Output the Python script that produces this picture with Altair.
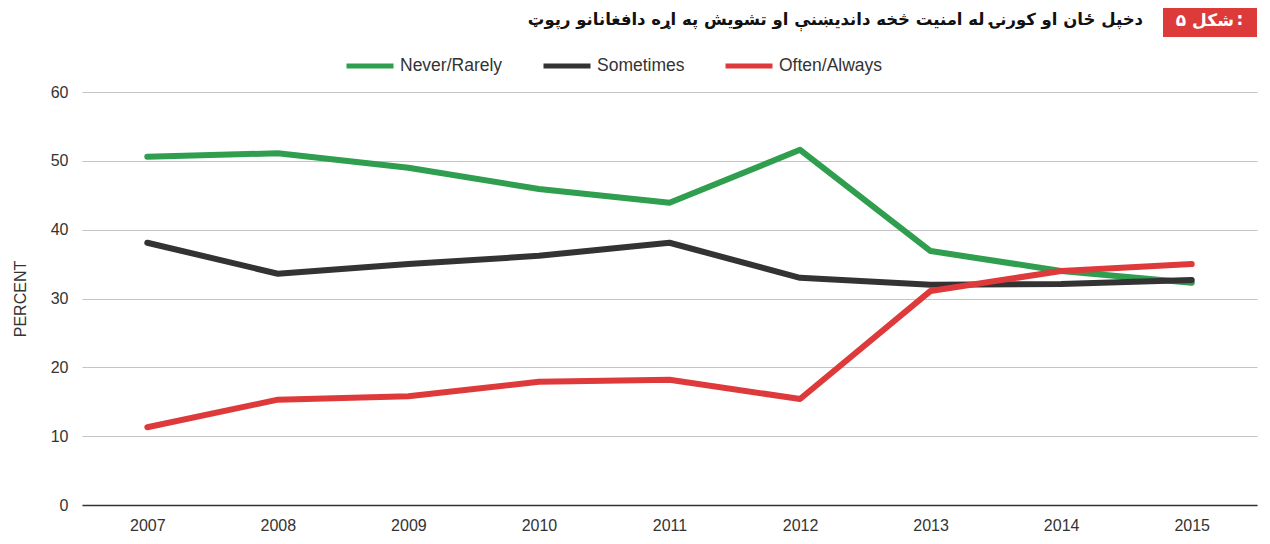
import altair as alt
import pandas as pd

years = ["2007", "2008", "2009", "2010", "2011", "2012", "2013", "2014", "2015"]
never_rarely = [50.6, 51.1, 49.0, 45.9, 43.9, 51.6, 36.9, 34.0, 32.3]
sometimes = [38.1, 33.6, 35.0, 36.2, 38.1, 33.0, 32.0, 32.1, 32.7]
often_always = [11.3, 15.3, 15.8, 17.9, 18.2, 15.4, 31.1, 34.0, 35.0]
series_names = ["Never/Rarely", "Sometimes", "Often/Always"]
series_colors = ["#2f9e4f", "#333333", "#df3a3b"]
title_text = "دخپل ځان او کورنۍ  له امنیت څخه داندیښنې او تشویش په اړه دافغانانو رپوټ"
badge_number = "۵"
badge_word = "شکل"
badge_colon = ":"

rows = []
for name, vals in zip(series_names, [never_rarely, sometimes, often_always]):
    for y, v in zip(years, vals):
        rows.append({"year": y, "series": name, "value": v})
df = pd.DataFrame(rows)

FONT = "Liberation Sans"

lines = alt.Chart(df).mark_line(strokeWidth=6, strokeCap="round", strokeJoin="round").encode(
    x=alt.X("year:O", sort=years, scale=alt.Scale(type="point", padding=0.5),
            axis=alt.Axis(title=None, labelAngle=0, ticks=False, grid=False,
                          domainColor="#333333", domainWidth=1.5, labelPadding=12,
                          labelFontSize=16, labelColor="#333333", labelFont=FONT)),
    y=alt.Y("value:Q", scale=alt.Scale(domain=[0, 60]),
            axis=alt.Axis(title="PERCENT", values=[0, 10, 20, 30, 40, 50, 60], domain=False,
                          ticks=False, gridColor="#c4c4c4", gridWidth=1, labelPadding=14,
                          labelFontSize=16, labelColor="#333333", labelFont=FONT,
                          titleFontSize=16, titleFontWeight="normal", titleColor="#333333",
                          titleFont=FONT, titlePadding=22)),
    color=alt.Color("series:N", sort=series_names,
                    scale=alt.Scale(domain=series_names, range=series_colors),
                    legend=alt.Legend(title=None, orient="none", direction="horizontal",
                                      legendX=262, legendY=-52, symbolType="stroke",
                                      symbolSize=2209, symbolStrokeWidth=5,
                                      labelFontSize=17.5, labelColor="#333333", labelFont=FONT,
                                      labelOffset=4, columnPadding=30)),
    order=alt.Order("year:O"),
)

badge = alt.Chart(pd.DataFrame({"t": [badge_word]})).mark_rect(color="#dd3a3a").encode(
    x=alt.value(1081), x2=alt.value(1175), y=alt.value(-88), y2=alt.value(-55)
)
badge_num = alt.Chart(pd.DataFrame({"t": [badge_number]})).mark_text(
    color="white", fontSize=17, fontWeight="bold", font="DejaVu Sans", align="center", baseline="middle"
).encode(x=alt.value(1099), y=alt.value(-71), text="t:N")
badge_lbl = alt.Chart(pd.DataFrame({"t": [badge_word]})).mark_text(
    color="white", fontSize=17, fontWeight="bold", font="DejaVu Sans", align="center", baseline="middle"
).encode(x=alt.value(1131), y=alt.value(-71), text="t:N")
badge_col = alt.Chart(pd.DataFrame({"t": [badge_colon]})).mark_text(
    color="white", fontSize=17, fontWeight="bold", font="DejaVu Sans", align="center", baseline="middle"
).encode(x=alt.value(1158), y=alt.value(-72), text="t:N")
title_label = alt.Chart(pd.DataFrame({"t": [title_text]})).mark_text(
    color="#111111", fontSize=16.5, fontWeight="bold", font="DejaVu Sans", align="right", baseline="middle"
).encode(x=alt.value(1061), y=alt.value(-72), text="t:N")

chart = alt.layer(lines, badge, badge_num, badge_lbl, badge_col, title_label).properties(
    width=1175, height=413,
    autosize=alt.AutoSizeParams(type="none"),
    padding={"left": 74, "top": 84, "right": 5, "bottom": 32},
).configure(background="white").configure_view(stroke=None)

chart.save("out.html", embed_options={"renderer": "svg", "actions": False})
